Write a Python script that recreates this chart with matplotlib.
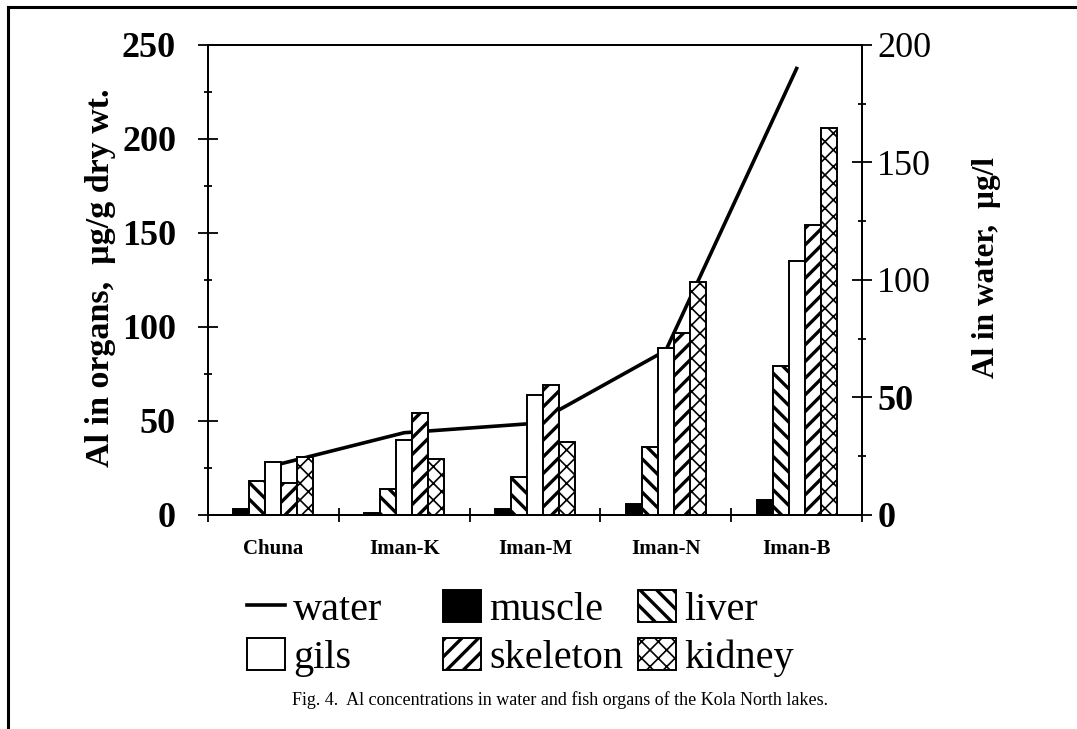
import numpy as np
import matplotlib
matplotlib.use("Agg")
import matplotlib.pyplot as plt
from matplotlib.lines import Line2D
from matplotlib.ticker import MultipleLocator

plt.rcParams['font.family'] = ['Liberation Serif', 'DejaVu Serif']
plt.rcParams['hatch.linewidth'] = 2.4

lakes = ['Chuna', 'Iman-K', 'Iman-M', 'Iman-N', 'Iman-B']
organs = ['muscle', 'liver', 'gils', 'skeleton', 'kidney']
muscle = [3, 1, 3, 6, 8]
liver = [18, 14, 20, 36, 79]
gils = [28, 40, 64, 89, 135]
skeleton = [17, 54, 69, 97, 154]
kidney = [31, 30, 39, 124, 206]
water = [21, 35, 39, 70, 190]

values = [muscle, liver, gils, skeleton, kidney]
faces = ['black', 'white', 'white', 'white', 'white']
hatches = [None, '\\\\', None, '//', 'xx']


def thin_hatch(p):
    if hasattr(p, 'set_hatch_linewidth'):
        p.set_hatch_linewidth(1.2)


fig = plt.figure(figsize=(10.77, 7.29), dpi=100)
ax = fig.add_axes([0.1931, 0.2936, 0.6073, 0.6447])
ax2 = ax.twinx()
ax.set_zorder(ax2.get_zorder() + 1)
ax.patch.set_visible(False)

x = np.arange(len(lakes))
w = 0.122
bars = []
for k, (vals, fc, h) in enumerate(zip(values, faces, hatches)):
    b = ax.bar(x + (k - 2) * w, vals, w, color=fc, edgecolor='black',
               linewidth=1.4, hatch=h, label=organs[k])
    if h == 'xx':
        for p in b:
            thin_hatch(p)
    bars.append(b)

wl, = ax2.plot(x, water, color='black', linewidth=2.6, label='water')

ax.set_xlim(-0.5, 4.5)
ax.set_ylim(0, 250)
ax2.set_ylim(0, 200)

ax.yaxis.set_major_locator(MultipleLocator(50))
ax.yaxis.set_minor_locator(MultipleLocator(25))
ax2.yaxis.set_major_locator(MultipleLocator(50))
ax2.yaxis.set_minor_locator(MultipleLocator(25))
ax.set_xticks(np.arange(-0.5, 5, 1))
ax.set_xticklabels([])
ax.set_xticks(x, minor=True)
ax.set_xticklabels(lakes, minor=True, fontsize=15, fontweight='bold')
ax.tick_params(axis='x', which='major', direction='inout', length=10, width=1.3)
ax.tick_params(axis='x', which='minor', length=0, pad=17)

ax.tick_params(axis='y', which='major', direction='inout', length=14, width=1.3,
               labelsize=26, pad=16)
ax.tick_params(axis='y', which='minor', direction='inout', length=6, width=1.3)
ax2.tick_params(axis='y', which='major', direction='inout', length=14, width=1.3,
                labelsize=26, pad=4)
ax2.tick_params(axis='y', which='minor', direction='inout', length=6, width=1.3)
for t in ax.get_yticklabels():
    t.set_fontweight('bold')
for t in ax2.get_yticklabels():
    if t.get_text() in ('0', '50'):
        t.set_fontweight('bold')

for a in (ax, ax2):
    for s in a.spines.values():
        s.set_linewidth(1.4)

ax.set_ylabel('Al in organs,  \u00b5g/g dry wt.', fontsize=24.5, fontweight='bold',
              labelpad=4)
ax.yaxis.label.set_y(0.505)
ax2.set_ylabel('Al in water,  \u00b5g/l', fontsize=22.5, fontweight='bold',
               labelpad=29)
ax2.yaxis.label.set_y(0.526)

# legend in three columns, two rows each
cols = [[wl, bars[2]], [bars[0], bars[3]], [bars[1], bars[4]]]
names = [['water', 'gils'], ['muscle', 'skeleton'], ['liver', 'kidney']]
xpos = [247 / 1077, 443 / 1077, 638 / 1077]
for hs, ls, xp in zip(cols, names, xpos):
    lg = fig.legend(hs, ls, loc='upper left', bbox_to_anchor=(xp, 1 - 590 / 729),
                    frameon=False, fontsize=29, handlelength=0.95,
                    handleheight=0.85, handletextpad=0.2, labelspacing=0.22,
                    borderpad=0, borderaxespad=0)
    if 'kidney' in ls:
        thin_hatch(lg.get_patches()[1])

fig.text(0.52, 0.040, 'Fig. 4.  Al concentrations in water and fish organs of the Kola North lakes.',
         ha='center', va='center', fontsize=13)

fig.add_artist(Line2D([8 / 1077, 8 / 1077], [0, 1 - 7 / 729], color='black',
                      linewidth=2.2, transform=fig.transFigure))
fig.add_artist(Line2D([8 / 1077, 1], [1 - 7 / 729, 1 - 7 / 729], color='black',
                      linewidth=2.2, transform=fig.transFigure))

fig.savefig('out.png', dpi=100)
